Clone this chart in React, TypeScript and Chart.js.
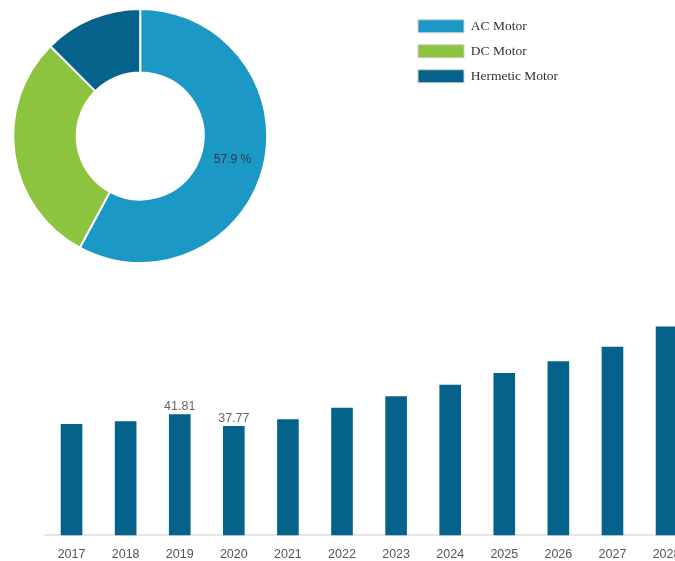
import React, { useEffect, useRef } from "react";
import { Chart, registerables } from "chart.js";

Chart.register(...registerables);

// ---- Doughnut data ----
const segmentLabels = ["AC Motor", "DC Motor", "Hermetic Motor"];
const segmentValues = [57.9, 29.6, 12.5];
const segmentColors = ["#1c98c4", "#8cc43f", "#05628a"];
const segmentTextLabels = ["57.9 %", "", ""];

// ---- Bar data ----
const years = ["2017", "2018", "2019", "2020", "2021", "2022", "2023", "2024", "2025", "2026", "2027", "2028"];
const barValues = [38.45, 39.4, 41.81, 37.77, 40.1, 44.0, 48.0, 52.0, 56.0, 60.1, 65.1, 72.1];
const barValueLabels = ["", "", "41.81", "37.77", "", "", "", "", "", "", "", ""];
const barColor = "#05628a";
const yMin = 0;
const yMax = 80;

const LEGEND_LEFT = 406.5;

const doughnutLabelPlugin = {
  id: "doughnutLabel",
  afterDatasetsDraw(chart: any) {
    const { ctx } = chart;
    const meta = chart.getDatasetMeta(0);
    ctx.save();
    ctx.font = "12px 'Liberation Sans', Arial, sans-serif";
    ctx.fillStyle = "#2d3b45";
    ctx.textAlign = "center";
    ctx.textBaseline = "middle";
    meta.data.forEach((arc: any, i: number) => {
      const t = segmentTextLabels[i];
      if (!t) return;
      const p = arc.getCenterPoint();
      ctx.fillText(t, p.x, p.y);
    });
    ctx.restore();
  },
};

const legendShiftPlugin = {
  id: "legendShift",
  afterLayout(chart: any) {
    const lg = chart.legend;
    if (!lg) return;
    const dx = LEGEND_LEFT - lg.left;
    lg.left += dx;
    lg.right += dx;
    if (lg.legendHitBoxes) lg.legendHitBoxes.forEach((h: any) => (h.left += dx));
  },
};

const barLabelPlugin = {
  id: "barLabel",
  afterDatasetsDraw(chart: any) {
    const { ctx } = chart;
    const meta = chart.getDatasetMeta(0);
    ctx.save();
    ctx.font = "12.5px 'Liberation Sans', Arial, sans-serif";
    ctx.fillStyle = "#666666";
    ctx.textAlign = "center";
    ctx.textBaseline = "alphabetic";
    meta.data.forEach((bar: any, i: number) => {
      const t = barValueLabels[i];
      if (!t) return;
      ctx.fillText(t, bar.x, bar.y - 4);
    });
    ctx.restore();
  },
};

export default function App() {
  const topRef = useRef<HTMLCanvasElement>(null);
  const botRef = useRef<HTMLCanvasElement>(null);

  useEffect(() => {
    const defaultGen = (Chart as any).overrides.doughnut.plugins.legend.labels.generateLabels;
    const c1 = new Chart(topRef.current!, {
      type: "doughnut",
      data: {
        labels: segmentLabels,
        datasets: [
          {
            data: segmentValues,
            backgroundColor: segmentColors,
            borderColor: "#ffffff",
            borderWidth: 2,
          },
        ],
      },
      options: {
        responsive: false,
        animation: false,
        cutout: "50%",
        layout: { padding: { left: 12, top: 8, bottom: 8, right: 245 } },
        plugins: {
          tooltip: { enabled: false },
          legend: {
            position: "right",
            align: "start",
            labels: {
              boxWidth: 46,
              boxHeight: 13,
              padding: 11.5,
              color: "#333333",
              font: { family: "'Liberation Serif', 'Times New Roman', serif", size: 13.5 },
              generateLabels: (chart: any) =>
                defaultGen(chart).map((l: any) => ({ ...l, strokeStyle: "#d0d0d0", lineWidth: 1 })),
            },
          },
        },
      } as any,
      plugins: [doughnutLabelPlugin, legendShiftPlugin],
    });

    const c2 = new Chart(botRef.current!, {
      type: "bar",
      data: {
        labels: years,
        datasets: [
          {
            data: barValues,
            backgroundColor: barColor,
            borderWidth: 0,
            barPercentage: 0.4,
            categoryPercentage: 1,
          },
        ],
      },
      options: {
        responsive: false,
        animation: false,
        layout: { padding: { left: 44.5, right: 6.4, top: 13.5, bottom: -13.4 } },
        plugins: { legend: { display: false }, tooltip: { enabled: false } },
        scales: {
          x: {
            grid: { display: false, drawTicks: false },
            border: { display: true, color: "#e6e6e6", width: 2 },
            ticks: {
              padding: 12,
              color: "#555555",
              font: { family: "'Liberation Sans', Arial, sans-serif", size: 12.5 },
              autoSkip: false,
              maxRotation: 0,
            },
          },
          y: {
            display: false,
            min: yMin,
            max: yMax,
          },
        },
      } as any,
      plugins: [barLabelPlugin],
    });

    return () => {
      c1.destroy();
      c2.destroy();
    };
  }, []);

  return (
    <div
      style={{
        position: "absolute",
        left: 0,
        top: 0,
        width: 675,
        height: 561,
        overflow: "hidden",
        background: "#ffffff",
      }}
    >
      <canvas
        ref={topRef}
        width={675}
        height={272}
        style={{ position: "absolute", left: 0, top: 0, width: 675, height: 272 }}
      />
      <canvas
        ref={botRef}
        width={700}
        height={271}
        style={{ position: "absolute", left: 0, top: 290, width: 700, height: 271 }}
      />
    </div>
  );
}
